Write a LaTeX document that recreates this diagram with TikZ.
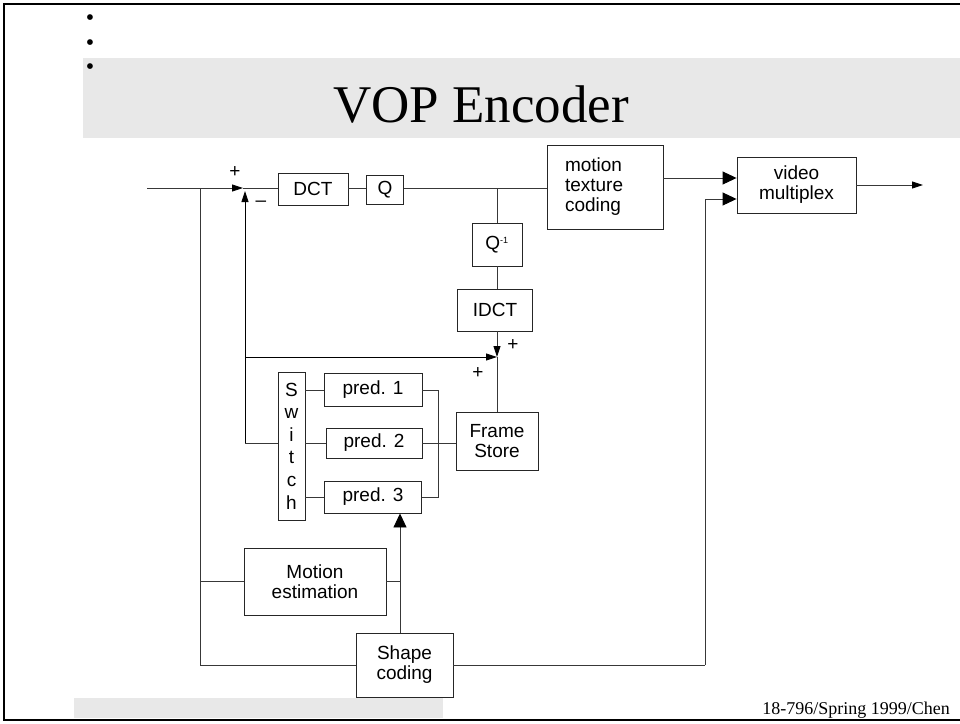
\documentclass[tikz,border=0pt]{standalone}
\usepackage{fontspec}
\setmainfont{Liberation Serif}
\newfontfamily\arialfont{Liberation Sans}
\usetikzlibrary{arrows.meta,calc}
\definecolor{band}{RGB}{232,232,232}
\begin{document}
\begin{tikzpicture}[x=1pt,y=-1pt,
  blk/.style={draw=black!85, line width=0.9pt, rectangle, inner sep=0pt,
    font=\arialfont\fontsize{19}{20}\selectfont, align=center},
  wire/.style={draw=black!78, line width=0.9pt},
  sarr/.style={-{Triangle[length=11pt,width=7pt,color=black]}},
  barr/.style={-{Triangle[length=14pt,width=13pt,color=black]}},
  sign/.style={font=\arialfont\fontsize{19}{19}\selectfont, inner sep=0pt},
  bul/.style={anchor=base, inner sep=0pt, font=\fontsize{24}{24}\selectfont},
]
\useasboundingbox (0,0) rectangle (960,723);
% bands
\fill[band] (83,58) rectangle (960,138);
\fill[band] (74,698) rectangle (443,718);
% frame
\draw[line width=2.5pt] (960,4) -- (4,4) -- (4,720) -- (960,720);
% bullets
\node[bul] (b1) at (90,25) {•};
\node[bul] (b2) at (90,50) {•};
\node[bul] (b3) at (90,74) {•};
% title and footer
\node[anchor=base, inner sep=0pt] (title) at (481,122) {\fontsize{53}{53}\selectfont VOP Encoder};
\node[anchor=base east, inner sep=0pt] (foot) at (950,714) {\fontsize{18}{18}\selectfont 18-796/Spring 1999/Chen};

% coordinates
\coordinate (in) at (147,188);
\coordinate (tap) at (200,188);
\coordinate (sum1) at (243,188);
\coordinate (fbtop) at (245,191);
\coordinate (br) at (497,188);
\coordinate (out) at (923,185);
\coordinate (sum2) at (497,357);
\coordinate (fbmid) at (245,357);
\coordinate (fbx) at (245,443);
\coordinate (col) at (438,390);
\coordinate (bl) at (200,665);
\coordinate (rr) at (705,665);
\coordinate (ax) at (400,579);

% blocks
\node[blk, minimum width=70pt, minimum height=32pt] (dct) at (313,189) {DCT};
\node[blk, minimum width=37pt, minimum height=29pt] (q) at (385,190) {Q};
\node[blk, text width=80pt, inner xsep=18pt, minimum height=84pt, align=left] (mtc) at (605,187) {motion\\texture\\coding};
\node[blk, minimum width=119pt, minimum height=56pt] (vm) at (796.5,185) {video\\multiplex};
\node[blk, minimum width=50pt, minimum height=43pt] (qi) at (497,244.5) {Q\textsuperscript{\fontsize{9}{9}\selectfont -1}};
\node[blk, minimum width=75pt, minimum height=42pt] (idct) at (495,310) {IDCT};
\node[blk, minimum width=82pt, minimum height=58pt] (fs) at (497,441) {Frame\\Store};
\node[blk, minimum width=27pt, minimum height=148pt, font=\arialfont\fontsize{19}{22.6}\selectfont] (sw) at (291.5,446) {S\\w\\i\\t\\c\\h};
\node[blk, minimum width=98pt, minimum height=33pt] (p1) at (373,390) {pred. 1};
\node[blk, minimum width=96pt, minimum height=30pt] (p2) at (374,443) {pred. 2};
\node[blk, minimum width=97pt, minimum height=32pt] (p3) at (373,497) {pred. 3};
\node[blk, minimum width=142pt, minimum height=67pt] (me) at (315,581.5) {Motion\\estimation};
\node[blk, minimum width=97pt, minimum height=64pt] (sc) at (404.5,665) {Shape\\coding};

% signs
\node[sign] (plus1) at (235,172) {+};
\node[sign] (minus1) at (261,204) {–};
\node[sign] (plus2) at (513,345) {+};
\node[sign] (plus3) at (478,373) {+};

% connectors
\draw[wire] (in) -- (tap);
\draw[wire,sarr] (tap) -- (sum1);
\draw[wire] (sum1) -- (sum1 -| dct.west);
\draw[wire] (dct.east |- in) -- (q.west |- in);
\draw[wire] (q.east |- in) -- (mtc.west |- in);
\draw[wire] (br) -- (qi.north);
\draw[wire] (qi.south) -- (qi.south |- idct.north);
\draw[wire,sarr] (idct.south -| br) -- (sum2);
\draw[wire,draw=black,sarr] (fbx) -- (fbtop);
\draw[wire,draw=black,sarr] (fbmid) -- (sum2);
\draw[wire] (fs.north) -- (sum2);
\draw[wire] (fbx) -- (sw.west |- fbx);
\draw[wire] (sw.east |- p1) -- (p1.west);
\draw[wire] (sw.east |- p2) -- (p2.west);
\draw[wire] (sw.east |- p3) -- (p3.west);
\draw[wire] (p1.east) -| (col) |- (p3.east);
\draw[wire] (p2.east) -- (fs.west |- p2);
\draw[wire] (tap) -- (bl) -- (sc.west);
\draw[wire] (tap |- me) -- (me.west);
\draw[wire] (me.east) -- (me.east -| ax);
\draw[wire,barr] (ax |- sc.north) -- (ax |- p3.south);
\draw[wire] (sc.east) -- (rr);
\draw[wire,barr] (rr) |- ([yshift=-14pt]vm.west);
\draw[wire,barr] ([yshift=9pt]mtc.east) -- ([yshift=9pt]mtc.east -| vm.west);
\draw[wire,sarr] (vm.east) -- (out);
\end{tikzpicture}
\end{document}
